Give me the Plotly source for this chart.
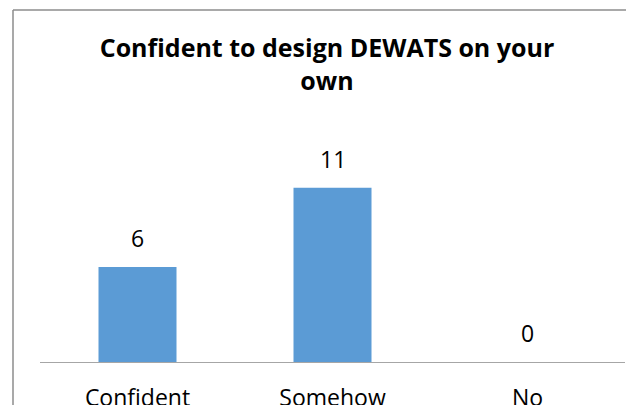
import plotly.graph_objects as go

categories = ["Confident", "Somehow", "No"]
values = [6, 11, 0]
title_text = "Confident to design DEWATS on your<br>own"

W, H = 626, 405
L, R, T, B = 40, 1, 172, 43
plot_w = W - L - R
plot_h = H - T - B

fig = go.Figure()
fig.add_trace(go.Bar(
    x=categories, y=values,
    marker=dict(color="#5B9BD5", line=dict(width=0)),
    width=0.4,
    hoverinfo="skip",
))

for c, v in zip(categories, values):
    fig.add_annotation(
        x=c, y=v, xref="x", yref="y", text=str(v), showarrow=False,
        yanchor="bottom", yshift=11,
        font=dict(family="Open Sans", size=23, color="#000000"),
    )

# chart-area border (left and top edges visible)
bx = (13 - L) / plot_w
by = (H - B - 10) / plot_h
fig.add_shape(type="line", xref="paper", yref="paper", x0=bx, x1=bx, y0=-1, y1=by,
              line=dict(color="#8c8c8c", width=1.5))
fig.add_shape(type="line", xref="paper", yref="paper", x0=bx, x1=2, y0=by, y1=by,
              line=dict(color="#8c8c8c", width=1.5))

fig.update_layout(
    width=W, height=H,
    margin=dict(l=L, r=R, t=T, b=B, pad=0, autoexpand=False),
    paper_bgcolor="white", plot_bgcolor="white",
    showlegend=False,
    title=dict(text=title_text, x=(327 - L) / plot_w, xref="paper", xanchor="center",
               y=1 - 57 / H, yref="container", yanchor="top", automargin=False,
               font=dict(family="Open Sans", size=25, color="#000000", weight="bold")),
    xaxis=dict(showline=True, linecolor="#a6a6a6", linewidth=1, ticks="",
               showgrid=False, zeroline=False, automargin=False,
               tickfont=dict(family="Open Sans", size=23, color="#000000"),
               ticklabelstandoff=15, fixedrange=True),
    yaxis=dict(range=[0, 12], visible=False, showgrid=False, zeroline=False,
               automargin=False, fixedrange=True),
)

fig.write_html(
    "out.html",
    config={"displayModeBar": False},
    post_script="document.body.style.margin='0';document.body.style.overflow='hidden';",
)
